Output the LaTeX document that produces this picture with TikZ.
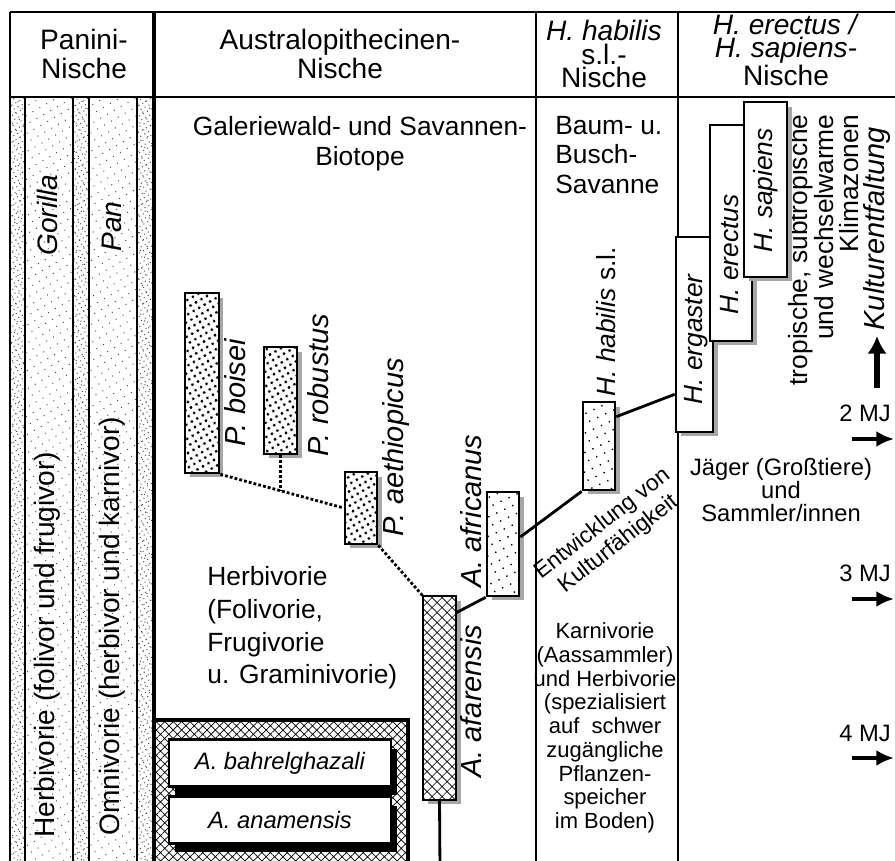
\documentclass[tikz,border=0pt]{standalone}
\usepackage{fontspec}
\setmainfont{Liberation Sans}
\usetikzlibrary{patterns.meta,shadows,arrows.meta}

\tikzset{
    box/.style={draw, line width=1.5pt, inner sep=0pt},
    grayshadow/.style={drop shadow={shadow xshift=0.09cm, shadow yshift=-0.09cm, fill=gray!70, opacity=1}},
    starbox/.style={grayshadow, preaction={fill=white}, box, pattern={Stars[radius=1pt,points=6,distance=3.6pt,angle=30]}},
    tickbox/.style={grayshadow, preaction={fill=white}, box, pattern={Dots[radius=0.55pt,distance=5pt,angle=25]}},
    hatchbox/.style={grayshadow, preaction={fill=white}, box, pattern={Hatch[angle=45,distance=4pt,line width=0.4pt]}},
    homobox/.style={grayshadow, box, fill=white},
    anabox/.style={drop shadow={shadow xshift=0.12cm, shadow yshift=-0.18cm, fill=black, opacity=1}, box, fill=white,
        minimum width=4.44cm, minimum height=0.93cm, font=\fontsize{13.5}{14}\selectfont\itshape},
    spec/.style={rotate=90, anchor=west, inner sep=0pt, font=\fontsize{16.5}{17}\selectfont\itshape},
    hspec/.style={rotate=90, anchor=west, inner sep=0pt, font=\fontsize{15}{16}\selectfont\itshape},
    colname/.style={rotate=90, anchor=west, inner sep=0pt, font=\fontsize{16}{17}\selectfont},
    hdr/.style={align=center, inner sep=0pt, font=\fontsize{16}{17}\selectfont},
    hdrsmall/.style={align=center, inner sep=0pt, font=\fontsize{16}{13.5}\selectfont},
    txt/.style={inner sep=0pt, font=\fontsize{15}{17}\selectfont},
    small/.style={inner sep=0pt, align=center, font=\fontsize{13.5}{13}\selectfont},
    conn/.style={line width=1.6pt},
    dotline/.style={line width=1.6pt, dash pattern=on 1.6pt off 1.2pt},
    mjarrow/.style={line width=2pt, -{Latex[length=10pt,width=9pt]}}
}

\begin{document}
\begin{tikzpicture}[x=0.02cm, y=-0.02cm]
    \useasboundingbox (0,0) rectangle (895,861);
    \clip (0,0) rectangle (895,861);

    % Panini columns
    \path[pattern={Dots[radius=0.4pt,distance=4.5pt,angle=30]}, pattern color=black!70] (10,97) rectangle (154,870);
    \path[pattern={Dots[radius=0.4pt,distance=2.6pt,angle=30]}, pattern color=black!70] (10,97) rectangle (25,870);
    \path[pattern={Dots[radius=0.4pt,distance=2.6pt,angle=30]}, pattern color=black!70] (73,97) rectangle (89,870);
    \path[pattern={Dots[radius=0.4pt,distance=2.6pt,angle=30]}, pattern color=black!70] (137,97) rectangle (154,870);

    % frame of the early australopithecines
    \path[pattern={Hatch[angle=45,distance=3.4pt,line width=0.4pt]}] (154,720) rectangle (408,870);
    \draw[line width=2.2pt] (154,720) -- (408,720) -- (408,870);

    % table lines
    \draw[line width=1.7pt] (10,12) -- (895,12);
    \draw[line width=1.7pt] (10,97) -- (895,97);
    \draw[line width=1pt] (10,12) -- (10,870);
    \draw[line width=2.2pt] (154,12) -- (154,870);
    \draw[line width=1.2pt] (536,12) -- (536,870);
    \draw[line width=1.5pt] (678,12) -- (678,870);
    \draw[line width=1.1pt] (25,97) -- (25,870);
    \draw[line width=1.1pt] (73,97) -- (73,870);
    \draw[line width=1.1pt] (89,97) -- (89,870);
    \draw[line width=1.1pt] (137,97) -- (137,870);

    % headers
    \node[hdr] (panini) at (84,54) {Panini-\\Nische};
    \node[hdr] (austr) at (340,54) {Australopithecinen-\\Nische};
    \node[hdrsmall] (habhdr) at (604,54) {\textit{H. habilis}\\s.l.-\\Nische};
    \node[hdrsmall] (erechdr) at (786,50) {\textit{H. erectus /}\\\textit{H. sapiens-}\\Nische};

    % Panini texts
    \node[colname] (herbcol) at (47,838) {Herbivorie (folivor und frugivor)};
    \node[colname, font=\fontsize{16}{17}\selectfont\itshape] (gorilla) at (47,256) {Gorilla};
    \node[colname] (omnicol) at (112,836) {Omnivorie (herbivor und karnivor)};
    \node[colname, font=\fontsize{16}{17}\selectfont\itshape] (pan) at (112,252) {Pan};

    % habitat and diet texts
    \node[txt, align=center] (galerie) at (360,144) {Galeriewald- und Savannen-\\Biotope};
    \node[txt, align=left, anchor=west] (baum) at (555,155) {Baum- u.\\Busch-\\Savanne};
    \node[txt, align=left, anchor=west, font=\fontsize{15}{18.6}\selectfont] (herbi) at (207,628) {Herbivorie\\(Folivorie,\\Frugivorie\\u. Graminivorie)};
    \node[inner sep=0pt, align=center, font=\fontsize{12.5}{13.5}\selectfont] (karni) at (605,728)
        {Karnivorie\\(Aassammler)\\und Herbivorie\\(spezialisiert\\auf\ \ schwer\\zugängliche\\Pflanzen-\\speicher\\im Boden)};
    \node[small] (jaeger) at (781,490) {Jäger (Großtiere)\\und\\Sammler/innen};
    \node[rotate=90, anchor=east, align=right, inner sep=0pt, font=\fontsize{15}{14.5}\selectfont] (klima) at (824,114)
        {tropische, subtropische\\und wechselwarme\\Klimazonen};
    \node[rotate=90, anchor=west, inner sep=3pt, font=\fontsize{16.5}{17}\selectfont\itshape] (kultur) at (877,336) {Kulturentfaltung};
    \coordinate (kulfoot) at (877,388);
    \draw[line width=3.2pt, -{Latex[length=10pt,width=11pt]}] (kulfoot) -- (kultur.west);

    % early australopithecines
    \node[anabox] (bahrel) at (280,763) {A. bahrelghazali};
    \node[anabox] (anam) at (280,820) {A. anamensis};

    % species boxes
    \node[starbox, minimum width=0.68cm, minimum height=3.6cm] (boisei) at (202,383) {};
    \node[starbox, minimum width=0.66cm, minimum height=2.14cm] (robustus) at (280.5,400.5) {};
    \node[starbox, minimum width=0.64cm, minimum height=1.44cm] (aeth) at (361,508) {};
    \node[tickbox, minimum width=0.64cm, minimum height=2.08cm] (afri) at (503,544) {};
    \node[hatchbox, minimum width=0.66cm, minimum height=4.08cm] (afar) at (439.5,698) {};
    \node[tickbox, minimum width=0.64cm, minimum height=1.76cm] (habilis) at (599,446) {};
    \node[homobox, minimum width=0.74cm, minimum height=3.9cm] (erg) at (694.5,334.5) {};
    \node[hspec] (erglbl) at (696,405) {H. ergaster};
    \node[homobox, minimum width=0.84cm, minimum height=4.32cm] (erec) at (731,233) {};
    \node[hspec] (ereclbl) at (730,315) {H. erectus};
    \node[homobox, minimum width=0.86cm, minimum height=3.5cm] (sap) at (765.5,189.5) {};
    \node[hspec] (saplbl) at (766,253) {H. sapiens};

    % species labels
    \node[spec] (boiseilbl) at (235,447) {P. boisei};
    \node[spec] (robustuslbl) at (318,457) {P. robustus};
    \node[spec] (aethlbl) at (396,537) {P. aethiopicus};
    \node[spec] (afrilbl) at (471,588) {A. africanus};
    \node[spec] (afarlbl) at (471,778) {A. afarensis};
    \node[hspec] (habilislbl) at (606,397) {H. habilis \upshape s.l.};

    % lines of descent
    \draw[dotline] (boisei.south east) -- coordinate[pos=0.49] (rjoin) (aeth.west);
    \draw[dotline] (robustus.south) -- (robustus.south |- rjoin);
    \draw[dotline] (aeth.south east) -- (afar.north west);
    \draw[conn] ([yshift=-0.34cm]afar.north east) -- (afri.south west);
    \draw[conn] ([yshift=0.14cm]afri.east) -- (habilis.south west);
    \draw[conn] ([yshift=-0.32cm]habilis.north east) -- ([yshift=0.78cm]erg.south west);
    \coordinate (afarend) at (440,870);
    \draw[conn] (afar.south) -- (afarend);

    \node[rotate=38, align=center, inner sep=0pt, font=\fontsize{13}{14.5}\selectfont] (kultfaeh) at (611,534) {Entwicklung von\\Kulturfähigkeit};

    % time marks
    \node[small] (mj2) at (865,413) {2 MJ};
    \node[small] (mj3) at (865,573) {3 MJ};
    \node[small] (mj4) at (865,733) {4 MJ};
    \coordinate (mj2a) at (852,439);
    \coordinate (mj3a) at (852,599);
    \coordinate (mj4a) at (852,758);
    \draw[mjarrow] (mj2a) -- ++(42,0);
    \draw[mjarrow] (mj3a) -- ++(42,0);
    \draw[mjarrow] (mj4a) -- ++(42,0);
\end{tikzpicture}
\end{document}
